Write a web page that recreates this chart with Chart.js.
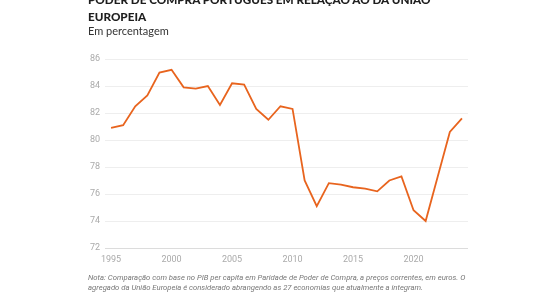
<!DOCTYPE html>
<html>
<head>
<meta charset="utf-8">
<script src="https://cdn.jsdelivr.net/npm/chart.js@4"></script>
<style>
    body { margin: 0; background: #fff; }
    #wrap { position: relative; width: 560px; height: 293px; overflow: hidden; }
    #title { position: absolute; left: 88px; top: -9px; font-family: Lato, sans-serif; font-weight: 900; font-size: 11.7px; line-height: 17px; color: #1e1e1e; white-space: nowrap; }
    #subtitle { position: absolute; left: 88px; top: 24px; font-family: Lato, sans-serif; font-size: 11px; color: #333; }
    #note { position: absolute; left: 88px; top: 273px; width: 390px; font-family: Roboto, sans-serif; font-style: italic; font-size: 7.7px; line-height: 9.5px; color: #777; }
    canvas { position: absolute; left: 0; top: 0; }
</style>
</head>
<body>
<div id="wrap">
    <canvas id="chart" width="560" height="293"></canvas>
    <div id="title">PODER DE COMPRA PORTUGUÊS EM RELAÇÃO AO DA UNIÃO<br>EUROPEIA</div>
    <div id="subtitle">Em percentagem</div>
    <div id="note">Nota: Comparação com base no PIB per capita em Paridade de Poder de Compra, a preços correntes, em euros. O agregado da União Europeia é considerado abrangendo as 27 economias que atualmente a integram.</div>
</div>
<script>
    // Years shown on the x axis
    const years = [];
    for (let y = 1995; y <= 2024; y++) years.push(y);

    // Poder de compra PT vs UE (%)
    const values = [80.9, 81.1, 82.5, 83.3, 85.0, 85.2, 83.9, 83.8, 84.0, 82.6,
                    84.2, 84.1, 82.3, 81.5, 82.5, 82.3, 77.0, 75.1, 76.8, 76.7,
                    76.5, 76.4, 76.2, 77.0, 77.3, 74.8, 74.0, 77.3, 80.6, 81.6];

    const yTicks = [72, 74, 76, 78, 80, 82, 84, 86];

    const ctx = document.getElementById("chart").getContext("2d");
    new Chart(ctx, {
        type: 'line',
        data: {
            labels: years,
            datasets: [{
                data: values,
                borderColor: '#e8641e',
                borderWidth: 1.8,
                pointRadius: 0,
                tension: 0,
                fill: false
            }]
        },
        options: {
            responsive: false,
            animation: false,
            layout: { padding: { left: 80, right: 92, top: 59, bottom: 30 } },
            plugins: { legend: { display: false }, tooltip: { enabled: false } },
            scales: {
                x: {
                    type: 'category',
                    offset: true,
                    grid: { display: false },
                    border: { display: false },
                    afterFit: s => { s.height = 15; },
                    ticks: {
                        autoSkip: false,
                        maxRotation: 0,
                        padding: -2,
                        color: '#aaa',
                        font: { family: 'Roboto', size: 9 },
                        callback: function(val, i) {
                            const yr = years[i];
                            return yr % 5 === 0 ? String(yr) : '';
                        }
                    }
                },
                y: {
                    min: yTicks[0],
                    max: yTicks[yTicks.length - 1],
                    afterBuildTicks: s => { s.ticks = yTicks.map(v => ({ value: v })); },
                    afterFit: s => { s.width = 25; },
                    grid: {
                        drawTicks: false,
                        color: c => c.tick && c.tick.value === 72 ? '#dcdcdc' : '#eeeeee'
                    },
                    border: { display: false },
                    ticks: {
                        padding: 5,
                        color: '#aaa',
                        font: { family: 'Roboto', size: 9 }
                    }
                }
            }
        }
    });
</script>
</body>
</html>
